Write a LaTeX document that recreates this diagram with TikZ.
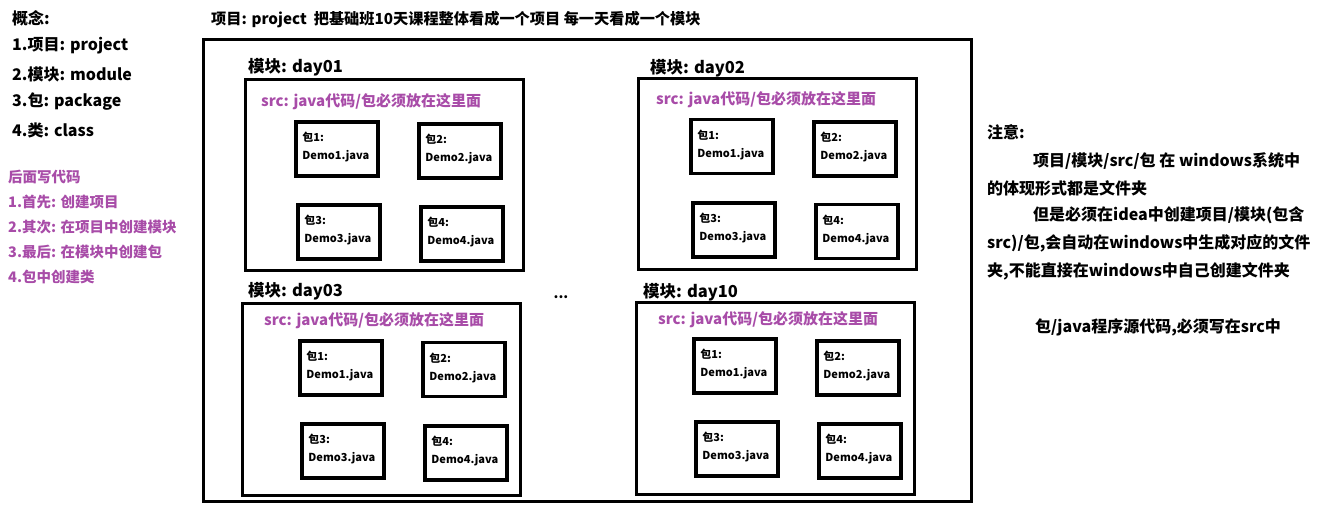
\documentclass[tikz,border=0pt]{standalone}
\usepackage{fontspec}
\setmainfont{Noto Sans CJK SC}
\definecolor{purp}{RGB}{168,76,168}
\tikzset{
  box/.style={draw=black,line width=3pt,fill=none,inner sep=0pt},
  pbox/.style={box,line width=3.5pt,minimum width=82pt,minimum height=54pt},
  mbox/.style={box,minimum width=278pt,minimum height=191pt},
  ptext/.style={anchor=west,inner sep=0pt,font=\fontsize{11}{13}\selectfont\bfseries},
  mlabel/.style={anchor=west,inner sep=0pt,font=\fontsize{16.5}{20}\selectfont\bfseries},
  srclabel/.style={anchor=west,inner sep=0pt,text=purp,font=\fontsize{15}{18}\selectfont\bfseries},
  ltext/.style={anchor=west,inner sep=0pt,font=\fontsize{16}{19}\selectfont\bfseries},
  ttext/.style={anchor=west,inner sep=0pt,font=\fontsize{15.2}{19}\selectfont\bfseries},
  ptxt/.style={anchor=west,inner sep=0pt,text=purp,font=\fontsize{14.5}{17}\selectfont\bfseries},
  rtext/.style={anchor=west,inner sep=0pt,font=\fontsize{16}{19}\selectfont\bfseries},
}
\newcommand\pkgnode[4]{%
  \node[pbox] (#1) at (#2,#3) {};
  \node[ptext] (#1n) at ([xshift=8pt,yshift=-17pt]#1.north west) {包#4:};
  \node[ptext] (#1d) at ([xshift=8pt,yshift=-36pt]#1.north west) {Demo#4.java};
}
\begin{document}
\begin{tikzpicture}[x=1pt,y=-1pt]
\useasboundingbox (0,0) rectangle (1320,510);
% left concepts
\node[ltext] (c0) at (12,18) {概念:};
\node[ltext] (c1) at (12,46) {1.项目: project};
\node[ltext] (c2) at (12,74) {2.模块: module};
\node[ltext] (c3) at (12,102) {3.包: package};
\node[ltext] (c4) at (12,130) {4.类: class};
\node[ptxt] (s0) at (8,177) {后面写代码};
\node[ptxt] (s1) at (8,202) {1.首先: 创建项目};
\node[ptxt] (s2) at (8,227) {2.其次: 在项目中创建模块};
\node[ptxt] (s3) at (8,252) {3.最后: 在模块中创建包};
\node[ptxt] (s4) at (8,277) {4.包中创建类};
% title
\node[ttext] (title) at (211,20) {项目: project\ \ 把基础班10天课程整体看成一个项目 每一天看成一个模块};
% outer project box
\node[box,minimum width=768pt,minimum height=461pt] (proj) at (587,270.5) {};
% modules
\node[mlabel] (l1) at (248,67) {模块: day01};
\node[mbox] (m1) at (384,175.5) {};
\node[srclabel] (src1) at (261,102) {src: java代码/包必须放在这里面};
\pkgnode{a1}{337}{149}{1}
\pkgnode{a2}{460}{151}{2}
\pkgnode{a3}{339}{232}{3}
\pkgnode{a4}{462}{234}{4}

\node[mlabel] (l2) at (650,68) {模块: day02};
\node[mbox] (m2) at (777.5,174.5) {};
\node[srclabel] (src2) at (656,100) {src: java代码/包必须放在这里面};
\pkgnode{b1}{732}{146.5}{1}
\pkgnode{b2}{855}{149}{2}
\pkgnode{b3}{734}{230}{3}
\pkgnode{b4}{857}{231.5}{4}

\node[mlabel] (l3) at (248,291) {模块: day03};
\node[mbox] (m3) at (381,399.5) {};
\node[srclabel] (src3) at (264,321) {src: java代码/包必须放在这里面};
\pkgnode{c1}{341}{368}{1}
\pkgnode{c2}{464}{369.5}{2}
\pkgnode{c3}{343}{451}{3}
\pkgnode{c4}{466}{453}{4}

\node[mlabel] (l4) at (643,292) {模块: day10};
\node[mbox] (m4) at (775,398.5) {};
\node[srclabel] (src4) at (658,320) {src: java代码/包必须放在这里面};
\pkgnode{d1}{735}{366}{1}
\pkgnode{d2}{858}{368}{2}
\pkgnode{d3}{737}{449}{3}
\pkgnode{d4}{860}{451}{4}

\node[inner sep=0pt,font=\fontsize{14}{16}\selectfont\bfseries] (dots) at (561,297) {...};
% right notes
\node[rtext] (r0) at (987,132) {注意:};
\node[rtext] (r1) at (1033,161) {项目/模块/src/包 在 windows系统中};
\node[rtext] (r2) at (987,188) {的体现形式都是文件夹};
\node[rtext] (r3) at (1033,215) {但是必须在idea中创建项目/模块(包含};
\node[rtext] (r4) at (987,243) {src)/包,会自动在windows中生成对应的文件};
\node[rtext] (r5) at (987,271) {夹,不能直接在windows中自己创建文件夹};
\node[rtext] (r6) at (1035,327) {包/java程序源代码,必须写在src中};
\end{tikzpicture}
\end{document}
